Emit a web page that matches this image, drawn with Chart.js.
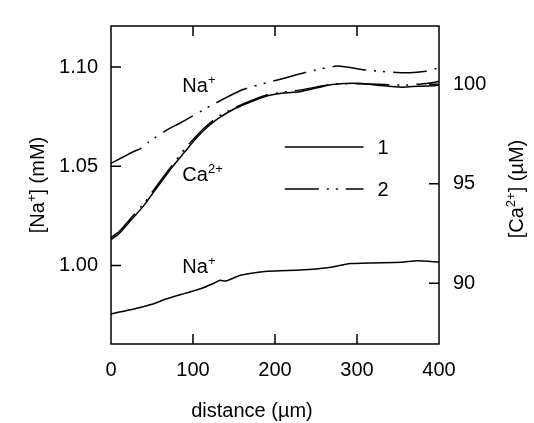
<!DOCTYPE html>
<html>
<head>
<meta charset="utf-8">
<script src="https://cdn.jsdelivr.net/npm/chart.js@4.4.1/dist/chart.umd.min.js"></script>
<style>
  html, body { margin: 0; padding: 0; background: #fff; }
  canvas { display: block; }
</style>
</head>
<body>
<canvas id="chart" width="534" height="423"></canvas>
<script>
// DATA
// lower Na+ trace, run 1 (left axis, mM)
const naLowDist = [0, 10, 27, 50, 68, 90, 109, 125, 133, 140, 158, 191, 231, 264, 292, 354, 374, 400];
const naLowVal = [0.9756, 0.9766, 0.9780, 0.9805, 0.9833, 0.9860, 0.9883, 0.9910, 0.9926, 0.9922, 0.9951, 0.9972, 0.9978, 0.9989, 1.0010, 1.0017, 1.0024, 1.0018];

// upper Na+ trace, run 2 (left axis, mM)
const naUpDist = [0, 26, 39, 45, 70, 84, 121, 161, 203, 240, 276, 313, 357, 384, 394, 400];
const naUpVal = [1.0515, 1.0571, 1.0596, 1.0620, 1.0688, 1.0717, 1.0804, 1.0887, 1.0935, 1.0976, 1.1005, 1.0984, 1.0971, 1.0979, 1.0989, 1.0999];

// Ca2+ traces (right axis, uM)
const caDist = [0, 10, 25, 40, 55, 75, 90, 103, 115, 130, 150, 170, 190, 210, 230, 250, 270, 300, 325, 355, 375, 395, 400];
const ca1Val = [92.20, 92.50, 93.20, 93.90, 94.75, 95.85, 96.60, 97.25, 97.75, 98.25, 98.75, 99.10, 99.40, 99.55, 99.62, 99.80, 99.98, 100.05, 99.95, 99.85, 99.90, 99.92, 99.95];
const ca2Val = [92.30, 92.60, 93.30, 94.00, 94.85, 95.95, 96.75, 97.35, 97.85, 98.35, 98.80, 99.15, 99.45, 99.60, 99.70, 99.85, 100.00, 100.02, 100.00, 99.95, 100.00, 100.10, 100.15];

const xTicks = [0, 100, 200, 300, 400];
const naTicks = [1.00, 1.05, 1.10];
const caTicks = [90, 95, 100];

const FONT = "'Liberation Sans', Arial, sans-serif";
const DASH2 = [34, 8, 2, 7, 2, 8];

function pts(xs, ys) {
    return xs.map((x, i) => ({ x: x, y: ys[i] }));
}

// text with superscripts: parts = [[text, isSup], ...]
function richWidth(ctx, parts, size) {
    let w = 0;
    parts.forEach(p => {
        ctx.font = (p[1] ? Math.round(size * 0.65) : size) + "px " + FONT;
        w += ctx.measureText(p[0]).width;
    });
    return w;
}

function drawRich(ctx, parts, x, y, size, align) {
    let w = richWidth(ctx, parts, size);
    let cx = align === "center" ? x - w / 2 : x;
    ctx.textAlign = "left";
    ctx.textBaseline = "alphabetic";
    ctx.fillStyle = "#000";
    parts.forEach(p => {
        let s = p[1] ? Math.round(size * 0.65) : size;
        ctx.font = s + "px " + FONT;
        ctx.fillText(p[0], cx, p[1] ? y - size * 0.42 : y);
        cx += ctx.measureText(p[0]).width;
    });
}

const decor = {
    id: "decor",
    afterDraw(chart) {
        const ctx = chart.ctx;
        const a = chart.chartArea;
        const sx = chart.scales.x, sy = chart.scales.y, sc = chart.scales.y1;
        ctx.save();
        ctx.strokeStyle = "#000";
        ctx.lineWidth = 1.5;
        ctx.strokeRect(a.left, a.top, a.right - a.left, a.bottom - a.top);

        // inward ticks
        const tl = 10;
        ctx.beginPath();
        xTicks.forEach(v => {
            let px = sx.getPixelForValue(v);
            if (v > 0 && v < 400) {
                ctx.moveTo(px, a.bottom); ctx.lineTo(px, a.bottom - tl);
                ctx.moveTo(px, a.top); ctx.lineTo(px, a.top + tl);
            }
        });
        naTicks.forEach(v => {
            let py = sy.getPixelForValue(v);
            ctx.moveTo(a.left, py); ctx.lineTo(a.left + tl, py);
        });
        caTicks.forEach(v => {
            let py = sc.getPixelForValue(v);
            ctx.moveTo(a.right, py); ctx.lineTo(a.right - tl, py);
        });
        ctx.stroke();

        // curve labels
        const fs = 20;
        drawRich(ctx, [["Na", false], ["+", true]], sx.getPixelForValue(87), sy.getPixelForValue(1.0872), fs, "left");
        drawRich(ctx, [["Ca", false], ["2+", true]], sx.getPixelForValue(87), sy.getPixelForValue(1.0426), fs, "left");
        drawRich(ctx, [["Na", false], ["+", true]], sx.getPixelForValue(87), sy.getPixelForValue(0.9961), fs, "left");

        // legend
        const ds = chart.data.datasets;
        const lx0 = a.left + (a.right - a.left) * 0.53, lx1 = a.left + (a.right - a.left) * 0.77;
        [[ds[0], "1", 147], [ds[1], "2", 189]].forEach(item => {
            ctx.beginPath();
            ctx.setLineDash(item[0].borderDash || []);
            ctx.lineWidth = 1.5;
            ctx.moveTo(lx0, item[2]); ctx.lineTo(lx1, item[2]);
            ctx.stroke();
            ctx.setLineDash([]);
            drawRich(ctx, [[item[1], false]], lx1 + 14, item[2] + 7, fs, "left");
        });

        // axis titles
        drawRich(ctx, [["distance (\u00b5m)", false]], 252, 417, fs, "center");
        ctx.save();
        ctx.translate(44, (a.top + a.bottom) / 2);
        ctx.rotate(-Math.PI / 2);
        drawRich(ctx, [["[Na", false], ["+", true], ["] (mM)", false]], 0, 0, fs, "center");
        ctx.restore();
        ctx.save();
        ctx.translate(523, (a.top + a.bottom) / 2 + 4);
        ctx.rotate(-Math.PI / 2);
        drawRich(ctx, [["[Ca", false], ["2+", true], ["] (\u00b5M)", false]], 0, 0, fs, "center");
        ctx.restore();
        ctx.restore();
    }
};

const tickFont = { family: FONT, size: 20 };

new Chart(document.getElementById("chart"), {
    type: "line",
    data: {
        datasets: [
            { label: "1", data: pts(naLowDist, naLowVal), yAxisID: "y", borderDash: [] },
            { label: "2", data: pts(naUpDist, naUpVal), yAxisID: "y", borderDash: DASH2 },
            { label: "Ca 1", data: pts(caDist, ca1Val), yAxisID: "y1", borderDash: [] },
            { label: "Ca 2", data: pts(caDist, ca2Val), yAxisID: "y1", borderDash: DASH2 }
        ]
    },
    options: {
        responsive: false,
        animation: false,
        devicePixelRatio: 1,
        layout: { padding: { top: 14, left: 0, right: 0, bottom: 0 } },
        elements: {
            line: { borderColor: "#000", borderWidth: 1.5, tension: 0.2, fill: false },
            point: { radius: 0 }
        },
        plugins: { legend: { display: false }, tooltip: { enabled: false } },
        scales: {
            x: {
                type: "linear", min: 0, max: 400,
                afterBuildTicks: s => { s.ticks = xTicks.map(v => ({ value: v })); },
                afterFit: s => { s.height = 79; },
                grid: { display: false, drawTicks: false },
                border: { display: false },
                ticks: { font: tickFont, color: "#000", padding: 14, maxRotation: 0 }
            },
            y: {
                position: "left", min: 0.9605, max: 1.1207,
                afterBuildTicks: s => { s.ticks = naTicks.map(v => ({ value: v })); },
                afterFit: s => { s.width = 111; },
                grid: { display: false, drawTicks: false },
                border: { display: false },
                ticks: { font: tickFont, color: "#000", padding: 13, callback: v => v.toFixed(2) }
            },
            y1: {
                position: "right", min: 86.95, max: 102.92,
                afterBuildTicks: s => { s.ticks = caTicks.map(v => ({ value: v })); },
                afterFit: s => { s.width = 95; },
                grid: { display: false, drawTicks: false },
                border: { display: false },
                ticks: { font: tickFont, color: "#000", padding: 14, callback: v => String(v) }
            }
        }
    },
    plugins: [decor]
});
</script>
</body>
</html>
